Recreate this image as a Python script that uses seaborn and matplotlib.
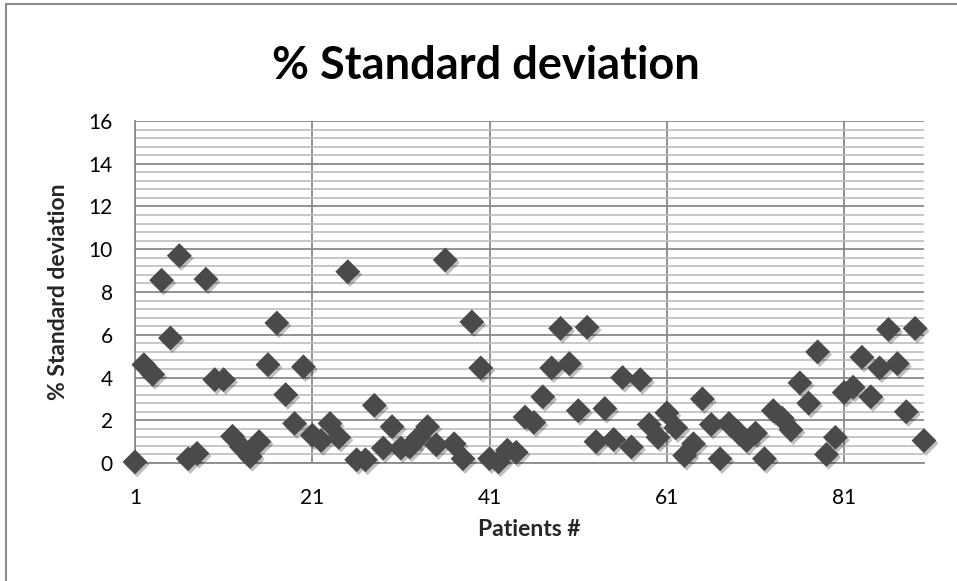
import matplotlib
matplotlib.use("Agg")
import matplotlib.pyplot as plt
import matplotlib.patheffects as pe
from matplotlib.patches import Rectangle
from matplotlib.ticker import MultipleLocator, FixedLocator
import seaborn as sns
import pandas as pd

# Patient numbers and their % standard deviation
patients = list(range(1, 91))
pct_std = [
    0.05, 4.6, 4.15, 8.55, 5.85, 9.7, 0.2, 0.45, 8.6, 3.9,
    3.9, 1.25, 0.75, 0.3, 1.0, 4.6, 6.55, 3.2, 1.85, 4.5,
    1.3, 1.05, 1.85, 1.2, 8.95, 0.15, 0.15, 2.7, 0.7, 1.7,
    0.7, 0.75, 1.2, 1.7, 0.85, 9.5, 0.9, 0.2, 6.6, 4.45,
    0.2, 0.05, 0.6, 0.5, 2.15, 1.9, 3.1, 4.45, 6.3, 4.65,
    2.45, 6.35, 1.0, 2.55, 1.1, 4.0, 0.75, 3.9, 1.8, 1.2,
    2.35, 1.65, 0.35, 0.9, 3.0, 1.8, 0.2, 1.85, 1.45, 1.05,
    1.4, 0.2, 2.45, 2.1, 1.55, 3.75, 2.8, 5.2, 0.4, 1.2,
    3.3, 3.55, 4.95, 3.1, 4.45, 6.25, 4.65, 2.4, 6.3, 1.05,
]
x_ticks = [1, 21, 41, 61, 81]

title = "% Standard deviation"
x_label = "Patients #"
y_label = "% Standard deviation"

df = pd.DataFrame({"patient": patients, "pct_std": pct_std})

sns.set_theme(style="white")
plt.rcParams["font.family"] = ["Lato", "DejaVu Sans"]

W, H = 957, 581
fig = plt.figure(figsize=(W / 100, H / 100), dpi=100)
ax = fig.add_axes([135 / W, 1 - 463 / H, (924 - 135) / W, (463 - 121) / H])

major_c = "#8a8a8a"
minor_c = "#bdbdbd"

sns.scatterplot(
    data=df, x="patient", y="pct_std", marker="D", s=160,
    color="#4a4a4a", linewidth=0, ax=ax, clip_on=False, zorder=5,
)
for coll in ax.collections:
    coll.set_path_effects([
        pe.SimplePatchShadow(offset=(1.5, -2.0), shadow_rgbFace="#000000", alpha=0.25),
        pe.Normal(),
    ])

ax.set_xlim(1, 90)
ax.set_ylim(0, 16)
ax.xaxis.set_major_locator(FixedLocator(x_ticks))
ax.yaxis.set_major_locator(MultipleLocator(2))
ax.yaxis.set_minor_locator(MultipleLocator(0.4))

ax.grid(which="major", axis="both", color=major_c, linewidth=1.3, zorder=0)
ax.grid(which="minor", axis="y", color=minor_c, linewidth=1.2, zorder=0)
ax.set_axisbelow(True)

for side in ["top", "right"]:
    ax.spines[side].set_visible(False)
for side in ["left", "bottom"]:
    ax.spines[side].set_color(major_c)
    ax.spines[side].set_linewidth(1.3)

ax.tick_params(axis="both", which="major", direction="out", length=6,
               width=1.3, color=major_c, labelsize=15, labelcolor="black")
ax.tick_params(axis="x", which="major", pad=12)
ax.tick_params(axis="y", which="major", pad=10)
ax.tick_params(axis="y", which="minor", length=0)

ax.set_xlabel(x_label, fontsize=16.5, fontweight="bold", labelpad=8)
ax.set_ylabel(y_label, fontsize=16.5, fontweight="bold", labelpad=14)
fig.text(486 / W, 1 - 66 / H, title, ha="center", va="center",
         fontsize=32.5, fontweight="bold", color="black")

# chart-area frame
fig.patches.append(Rectangle((6 / W, -0.1), 1.2, 1 - 4 / H + 0.1,
                             transform=fig.transFigure, fill=False,
                             edgecolor="#8c8c8c", linewidth=1.5))

fig.savefig("out.png", dpi=100)
